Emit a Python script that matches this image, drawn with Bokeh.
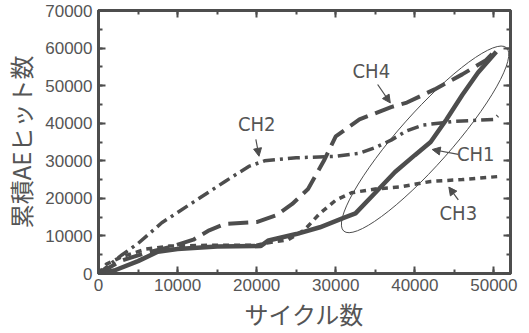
from bokeh.plotting import figure
from bokeh.models import LinearAxis, SingleIntervalTicker, Range1d, Arrow, NormalHead, Label, CustomJSTickFormatter
from bokeh.embed import file_html
from bokeh.resources import INLINE

# data (cycles, cumulative AE hits)
ch1_x = [0, 2000, 5000, 7500, 10000, 15000, 20500, 21500, 25000, 28000, 31000, 32500, 35000, 37500, 40000, 42000, 44000, 46000, 48000, 50300]
ch1_y = [0, 800, 3300, 5800, 6500, 7200, 7300, 8800, 10500, 12300, 14800, 16000, 21500, 27000, 31500, 35000, 41000, 47500, 53500, 59000]

ch2_x = [0, 1500, 3000, 5000, 8000, 12000, 16000, 19000, 21000, 25000, 30000, 33000, 35000, 37000, 39000, 41000, 45000, 50000, 50500]
ch2_y = [0, 2500, 5000, 8000, 13500, 19000, 24500, 28500, 30000, 30800, 31200, 32000, 33500, 35500, 38000, 39500, 40500, 41000, 42000]

ch3_x = [0, 1000, 3000, 6000, 9000, 14000, 20000, 21000, 24000, 26000, 28000, 30000, 32000, 35000, 38000, 42000, 46000, 50500]
ch3_y = [0, 2500, 4500, 6500, 7300, 7500, 7500, 8000, 9000, 11500, 16000, 19500, 21500, 22500, 23000, 24500, 25000, 25800]

ch4_x = [0, 3000, 6000, 9000, 12000, 14000, 16000, 20000, 22500, 24500, 26500, 28500, 30000, 33000, 37000, 39000, 42500, 46000, 49000, 50300]
ch4_y = [0, 3500, 5500, 7000, 9000, 11500, 13200, 13700, 15500, 18500, 22500, 30000, 36500, 41000, 44300, 45500, 49000, 53000, 56800, 59500]

x_label = "サイクル数"
y_label = "累積AEヒット数"

GRAY = "#4d4d4d"
TXT = "#555555"

p = figure(width=529, height=333, output_backend="svg", toolbar_location=None,
           x_range=Range1d(0, 52100), y_range=Range1d(0, 70000),
           min_border_left=97, min_border_right=19, min_border_top=10, min_border_bottom=58)
p.grid.visible = False
p.outline_line_color = GRAY
p.outline_line_width = 3
p.background_fill_color = "white"
p.border_fill_color = "white"

def style_axis(ax, labels=True):
    ax.ticker = SingleIntervalTicker(interval=10000, num_minor_ticks=2)
    ax.major_tick_in = 7
    ax.major_tick_out = 0
    ax.minor_tick_in = 4
    ax.minor_tick_out = 0
    ax.major_tick_line_color = GRAY
    ax.major_tick_line_width = 2
    ax.minor_tick_line_color = GRAY
    ax.minor_tick_line_width = 2
    ax.axis_line_color = GRAY
    ax.axis_line_width = 3
    ax.major_label_text_color = TXT
    ax.major_label_text_font = "Liberation Sans"
    ax.major_label_text_font_size = "17px"
    if not labels:
        ax.formatter = CustomJSTickFormatter(code="return ''")
    ax.axis_label_text_color = TXT
    ax.axis_label_text_font = "Noto Sans CJK JP"
    ax.axis_label_text_font_size = "24px"
    ax.axis_label_text_font_style = "normal"

style_axis(p.xaxis[0])
style_axis(p.yaxis[0])
p.xaxis[0].axis_label = x_label
p.yaxis[0].axis_label = y_label
p.xaxis[0].major_label_standoff = 5
p.yaxis[0].major_label_standoff = 6
p.xaxis[0].axis_label_standoff = 2
p.yaxis[0].axis_label_standoff = 4

top = LinearAxis(major_label_standoff=0)
style_axis(top, labels=False)
right = LinearAxis(major_label_standoff=0)
style_axis(right, labels=False)
p.add_layout(top, "above")
p.add_layout(right, "right")

p.line(ch3_x, ch3_y, line_color=GRAY, line_width=3.5, line_dash="6 5")
p.line(ch2_x, ch2_y, line_color=GRAY, line_width=3.5, line_dash="12 5 3 5")
p.line(ch4_x, ch4_y, line_color=GRAY, line_width=4, line_dash="20 8")
p.line(ch1_x, ch1_y, line_color=GRAY, line_width=4.5)

# ellipse highlighting the converging region
p.ellipse(x=[41300], y=[35700], width=[31000], height=[14000], angle=0.845,
          fill_color=None, line_color=GRAY, line_width=1)

def lab(text, x, y):
    p.add_layout(Label(x=x, y=y, text=text, text_color=TXT, text_font="DejaVu Sans Condensed",
                       text_font_size="20px", text_align="center", text_baseline="middle"))

def arr(x0, y0, x1, y1):
    p.add_layout(Arrow(x_start=x0, y_start=y0, x_end=x1, y_end=y1, line_color=GRAY, line_width=1.2,
                       end=NormalHead(size=8, fill_color=GRAY, line_color=GRAY)))

lab("CH2", 20000, 39800)
arr(19900, 35700, 20300, 31200)
lab("CH4", 34500, 53800)
arr(35300, 50300, 36900, 45400)
lab("CH1", 47700, 31800)
arr(45500, 31700, 42200, 33000)
lab("CH3", 45500, 16200)
arr(45500, 19600, 44300, 23000)

open("out.html", "w").write(file_html(p, INLINE))
